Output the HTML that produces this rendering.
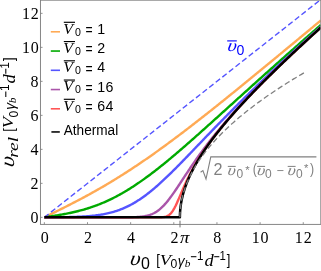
<!DOCTYPE html>
<html><head><meta charset="utf-8"><style>
html,body{margin:0;padding:0;background:#fff;}
svg{display:block;will-change:transform}
.se{font-family:"Liberation Serif",serif;}
.sa{font-family:"Liberation Sans",sans-serif;}
</style></head><body>
<svg width="321" height="271" viewBox="0 0 321 271">
<rect width="321" height="271" fill="#fff"/>
<defs><clipPath id="c"><rect x="40.45" y="0.2" width="280.35" height="224.20"/></clipPath></defs>
<g clip-path="url(#c)">
<g fill="none" stroke-width="2.4" stroke-linejoin="round">
<path d="M44.35,217.35 L45.42,216.83 L46.48,216.30 L47.55,215.78 L48.62,215.25 L49.69,214.72 L50.75,214.20 L51.82,213.67 L52.89,213.15 L53.96,212.62 L55.02,212.09 L56.09,211.56 L57.16,211.03 L58.23,210.50 L59.29,209.97 L60.36,209.44 L61.43,208.90 L62.50,208.37 L63.56,207.83 L64.63,207.29 L65.70,206.76 L66.76,206.22 L67.83,205.67 L68.90,205.13 L69.97,204.58 L71.03,204.04 L72.10,203.49 L73.17,202.94 L74.24,202.39 L75.30,201.83 L76.37,201.28 L77.44,200.72 L78.51,200.16 L79.57,199.59 L80.64,199.03 L81.71,198.46 L82.78,197.89 L83.84,197.32 L84.91,196.75 L85.98,196.17 L87.04,195.59 L88.11,195.01 L89.18,194.43 L90.25,193.84 L91.31,193.25 L92.38,192.66 L93.45,192.06 L94.52,191.47 L95.58,190.87 L96.65,190.26 L97.72,189.66 L98.79,189.05 L99.85,188.44 L100.92,187.82 L101.99,187.21 L103.06,186.59 L104.12,185.96 L105.19,185.34 L106.26,184.71 L107.33,184.08 L108.39,183.44 L109.46,182.81 L110.53,182.17 L111.59,181.52 L112.66,180.88 L113.73,180.23 L114.80,179.57 L115.86,178.92 L116.93,178.26 L118.00,177.60 L119.07,176.93 L120.13,176.27 L121.20,175.60 L122.27,174.92 L123.34,174.25 L124.40,173.57 L125.47,172.88 L126.54,172.20 L127.61,171.51 L128.67,170.82 L129.74,170.13 L130.81,169.43 L131.87,168.73 L132.94,168.03 L134.01,167.32 L135.08,166.61 L136.14,165.90 L137.21,165.19 L138.28,164.47 L139.35,163.75 L140.41,163.03 L141.48,162.30 L142.55,161.58 L143.62,160.85 L144.68,160.11 L145.75,159.38 L146.82,158.64 L147.89,157.90 L148.95,157.15 L150.02,156.41 L151.09,155.66 L152.15,154.91 L153.22,154.16 L154.29,153.40 L155.36,152.64 L156.42,151.88 L157.49,151.12 L158.56,150.35 L159.63,149.59 L160.69,148.82 L161.76,148.04 L162.83,147.27 L163.90,146.49 L164.96,145.71 L166.03,144.93 L167.10,144.15 L168.17,143.37 L169.23,142.58 L170.30,141.79 L171.37,141.00 L172.43,140.21 L173.50,139.41 L174.57,138.61 L175.64,137.81 L176.70,137.01 L177.77,136.21 L178.84,135.41 L179.91,134.60 L180.97,133.79 L182.04,132.98 L183.11,132.17 L184.18,131.36 L185.24,130.55 L186.31,129.73 L187.38,128.91 L188.45,128.09 L189.51,127.27 L190.58,126.45 L191.65,125.63 L192.72,124.80 L193.78,123.97 L194.85,123.14 L195.92,122.32 L196.98,121.48 L198.05,120.65 L199.12,119.82 L200.19,118.98 L201.25,118.15 L202.32,117.31 L203.39,116.47 L204.46,115.63 L205.52,114.79 L206.59,113.95 L207.66,113.11 L208.73,112.26 L209.79,111.42 L210.86,110.57 L211.93,109.72 L213.00,108.87 L214.06,108.02 L215.13,107.17 L216.20,106.32 L217.26,105.47 L218.33,104.61 L219.40,103.76 L220.47,102.91 L221.53,102.05 L222.60,101.19 L223.67,100.33 L224.74,99.48 L225.80,98.62 L226.87,97.76 L227.94,96.90 L229.01,96.03 L230.07,95.17 L231.14,94.31 L232.21,93.44 L233.28,92.58 L234.34,91.71 L235.41,90.85 L236.48,89.98 L237.54,89.11 L238.61,88.25 L239.68,87.38 L240.75,86.51 L241.81,85.64 L242.88,84.77 L243.95,83.90 L245.02,83.03 L246.08,82.16 L247.15,81.29 L248.22,80.41 L249.29,79.54 L250.35,78.67 L251.42,77.79 L252.49,76.92 L253.56,76.04 L254.62,75.17 L255.69,74.29 L256.76,73.42 L257.82,72.54 L258.89,71.66 L259.96,70.79 L261.03,69.91 L262.09,69.03 L263.16,68.15 L264.23,67.28 L265.30,66.40 L266.36,65.52 L267.43,64.64 L268.50,63.76 L269.57,62.88 L270.63,62.00 L271.70,61.12 L272.77,60.24 L273.84,59.36 L274.90,58.48 L275.97,57.60 L277.04,56.71 L278.11,55.83 L279.17,54.95 L280.24,54.07 L281.31,53.19 L282.37,52.30 L283.44,51.42 L284.51,50.54 L285.58,49.66 L286.64,48.77 L287.71,47.89 L288.78,47.01 L289.85,46.12 L290.91,45.24 L291.98,44.36 L293.05,43.47 L294.12,42.59 L295.18,41.71 L296.25,40.82 L297.32,39.94 L298.39,39.05 L299.45,38.17 L300.52,37.28 L301.59,36.40 L302.65,35.52 L303.72,34.63 L304.79,33.75 L305.86,32.86 L306.92,31.98 L307.99,31.09 L309.06,30.21 L310.13,29.32 L311.19,28.44 L312.26,27.55 L313.33,26.67 L314.40,25.78 L315.46,24.90 L316.53,24.01 L317.60,23.13 L318.67,22.24 L319.73,21.36 L320.80,20.47" stroke="#FFAA55"/>
<path d="M44.35,217.35 L45.42,217.19 L46.48,217.03 L47.55,216.86 L48.62,216.70 L49.69,216.54 L50.75,216.37 L51.82,216.20 L52.89,216.04 L53.96,215.87 L55.02,215.69 L56.09,215.52 L57.16,215.34 L58.23,215.16 L59.29,214.98 L60.36,214.80 L61.43,214.61 L62.50,214.42 L63.56,214.22 L64.63,214.02 L65.70,213.82 L66.76,213.61 L67.83,213.40 L68.90,213.18 L69.97,212.96 L71.03,212.73 L72.10,212.50 L73.17,212.26 L74.24,212.02 L75.30,211.77 L76.37,211.51 L77.44,211.25 L78.51,210.98 L79.57,210.71 L80.64,210.43 L81.71,210.14 L82.78,209.84 L83.84,209.54 L84.91,209.23 L85.98,208.92 L87.04,208.59 L88.11,208.26 L89.18,207.92 L90.25,207.57 L91.31,207.22 L92.38,206.85 L93.45,206.48 L94.52,206.10 L95.58,205.72 L96.65,205.32 L97.72,204.91 L98.79,204.50 L99.85,204.08 L100.92,203.65 L101.99,203.21 L103.06,202.76 L104.12,202.30 L105.19,201.84 L106.26,201.36 L107.33,200.88 L108.39,200.39 L109.46,199.89 L110.53,199.38 L111.59,198.86 L112.66,198.33 L113.73,197.79 L114.80,197.25 L115.86,196.69 L116.93,196.13 L118.00,195.56 L119.07,194.98 L120.13,194.39 L121.20,193.79 L122.27,193.18 L123.34,192.57 L124.40,191.94 L125.47,191.31 L126.54,190.67 L127.61,190.02 L128.67,189.37 L129.74,188.70 L130.81,188.03 L131.87,187.35 L132.94,186.66 L134.01,185.97 L135.08,185.26 L136.14,184.55 L137.21,183.83 L138.28,183.11 L139.35,182.38 L140.41,181.64 L141.48,180.89 L142.55,180.14 L143.62,179.38 L144.68,178.61 L145.75,177.84 L146.82,177.06 L147.89,176.27 L148.95,175.48 L150.02,174.68 L151.09,173.88 L152.15,173.07 L153.22,172.26 L154.29,171.44 L155.36,170.61 L156.42,169.78 L157.49,168.95 L158.56,168.11 L159.63,167.26 L160.69,166.41 L161.76,165.56 L162.83,164.70 L163.90,163.83 L164.96,162.96 L166.03,162.09 L167.10,161.22 L168.17,160.34 L169.23,159.45 L170.30,158.57 L171.37,157.67 L172.43,156.78 L173.50,155.88 L174.57,154.98 L175.64,154.08 L176.70,153.17 L177.77,152.26 L178.84,151.35 L179.91,150.43 L180.97,149.51 L182.04,148.59 L183.11,147.67 L184.18,146.74 L185.24,145.82 L186.31,144.88 L187.38,143.95 L188.45,143.02 L189.51,142.08 L190.58,141.14 L191.65,140.20 L192.72,139.26 L193.78,138.32 L194.85,137.37 L195.92,136.43 L196.98,135.48 L198.05,134.53 L199.12,133.58 L200.19,132.63 L201.25,131.68 L202.32,130.72 L203.39,129.77 L204.46,128.81 L205.52,127.86 L206.59,126.90 L207.66,125.94 L208.73,124.98 L209.79,124.02 L210.86,123.06 L211.93,122.10 L213.00,121.14 L214.06,120.18 L215.13,119.21 L216.20,118.25 L217.26,117.29 L218.33,116.32 L219.40,115.36 L220.47,114.39 L221.53,113.43 L222.60,112.47 L223.67,111.50 L224.74,110.53 L225.80,109.57 L226.87,108.60 L227.94,107.64 L229.01,106.67 L230.07,105.71 L231.14,104.74 L232.21,103.78 L233.28,102.81 L234.34,101.84 L235.41,100.88 L236.48,99.91 L237.54,98.95 L238.61,97.98 L239.68,97.02 L240.75,96.06 L241.81,95.09 L242.88,94.13 L243.95,93.16 L245.02,92.20 L246.08,91.24 L247.15,90.27 L248.22,89.31 L249.29,88.35 L250.35,87.39 L251.42,86.43 L252.49,85.47 L253.56,84.50 L254.62,83.54 L255.69,82.58 L256.76,81.63 L257.82,80.67 L258.89,79.71 L259.96,78.75 L261.03,77.79 L262.09,76.83 L263.16,75.88 L264.23,74.92 L265.30,73.97 L266.36,73.01 L267.43,72.06 L268.50,71.10 L269.57,70.15 L270.63,69.19 L271.70,68.24 L272.77,67.29 L273.84,66.34 L274.90,65.38 L275.97,64.43 L277.04,63.48 L278.11,62.53 L279.17,61.58 L280.24,60.64 L281.31,59.69 L282.37,58.74 L283.44,57.79 L284.51,56.85 L285.58,55.90 L286.64,54.95 L287.71,54.01 L288.78,53.06 L289.85,52.12 L290.91,51.18 L291.98,50.23 L293.05,49.29 L294.12,48.35 L295.18,47.41 L296.25,46.47 L297.32,45.53 L298.39,44.59 L299.45,43.65 L300.52,42.71 L301.59,41.77 L302.65,40.83 L303.72,39.90 L304.79,38.96 L305.86,38.02 L306.92,37.09 L307.99,36.15 L309.06,35.22 L310.13,34.28 L311.19,33.35 L312.26,32.42 L313.33,31.48 L314.40,30.55 L315.46,29.62 L316.53,28.69 L317.60,27.76 L318.67,26.83 L319.73,25.90 L320.80,24.97" stroke="#00AA00"/>
<path d="M44.35,217.35 L45.42,217.34 L46.48,217.34 L47.55,217.33 L48.62,217.32 L49.69,217.32 L50.75,217.31 L51.82,217.30 L52.89,217.29 L53.96,217.28 L55.02,217.28 L56.09,217.27 L57.16,217.26 L58.23,217.24 L59.29,217.23 L60.36,217.22 L61.43,217.21 L62.50,217.19 L63.56,217.18 L64.63,217.16 L65.70,217.14 L66.76,217.12 L67.83,217.10 L68.90,217.08 L69.97,217.05 L71.03,217.02 L72.10,217.00 L73.17,216.96 L74.24,216.93 L75.30,216.90 L76.37,216.86 L77.44,216.81 L78.51,216.77 L79.57,216.72 L80.64,216.67 L81.71,216.62 L82.78,216.56 L83.84,216.49 L84.91,216.42 L85.98,216.35 L87.04,216.28 L88.11,216.19 L89.18,216.10 L90.25,216.01 L91.31,215.91 L92.38,215.80 L93.45,215.69 L94.52,215.57 L95.58,215.44 L96.65,215.31 L97.72,215.16 L98.79,215.01 L99.85,214.85 L100.92,214.68 L101.99,214.50 L103.06,214.31 L104.12,214.11 L105.19,213.90 L106.26,213.68 L107.33,213.45 L108.39,213.20 L109.46,212.95 L110.53,212.68 L111.59,212.39 L112.66,212.10 L113.73,211.79 L114.80,211.47 L115.86,211.13 L116.93,210.78 L118.00,210.41 L119.07,210.03 L120.13,209.63 L121.20,209.22 L122.27,208.79 L123.34,208.34 L124.40,207.88 L125.47,207.40 L126.54,206.91 L127.61,206.40 L128.67,205.87 L129.74,205.33 L130.81,204.77 L131.87,204.19 L132.94,203.59 L134.01,202.98 L135.08,202.35 L136.14,201.70 L137.21,201.04 L138.28,200.36 L139.35,199.67 L140.41,198.95 L141.48,198.23 L142.55,197.48 L143.62,196.72 L144.68,195.95 L145.75,195.16 L146.82,194.35 L147.89,193.53 L148.95,192.70 L150.02,191.85 L151.09,190.99 L152.15,190.11 L153.22,189.23 L154.29,188.33 L155.36,187.41 L156.42,186.49 L157.49,185.55 L158.56,184.61 L159.63,183.65 L160.69,182.68 L161.76,181.71 L162.83,180.72 L163.90,179.73 L164.96,178.72 L166.03,177.71 L167.10,176.69 L168.17,175.66 L169.23,174.63 L170.30,173.59 L171.37,172.54 L172.43,171.48 L173.50,170.43 L174.57,169.36 L175.64,168.29 L176.70,167.22 L177.77,166.14 L178.84,165.06 L179.91,163.97 L180.97,162.88 L182.04,161.79 L183.11,160.69 L184.18,159.59 L185.24,158.49 L186.31,157.39 L187.38,156.29 L188.45,155.18 L189.51,154.07 L190.58,152.96 L191.65,151.85 L192.72,150.74 L193.78,149.63 L194.85,148.52 L195.92,147.41 L196.98,146.29 L198.05,145.18 L199.12,144.07 L200.19,142.96 L201.25,141.84 L202.32,140.73 L203.39,139.62 L204.46,138.51 L205.52,137.40 L206.59,136.29 L207.66,135.18 L208.73,134.08 L209.79,132.97 L210.86,131.87 L211.93,130.76 L213.00,129.66 L214.06,128.56 L215.13,127.46 L216.20,126.36 L217.26,125.27 L218.33,124.17 L219.40,123.08 L220.47,121.99 L221.53,120.90 L222.60,119.81 L223.67,118.73 L224.74,117.64 L225.80,116.56 L226.87,115.48 L227.94,114.40 L229.01,113.32 L230.07,112.25 L231.14,111.17 L232.21,110.10 L233.28,109.03 L234.34,107.96 L235.41,106.90 L236.48,105.83 L237.54,104.77 L238.61,103.71 L239.68,102.65 L240.75,101.59 L241.81,100.54 L242.88,99.48 L243.95,98.43 L245.02,97.38 L246.08,96.34 L247.15,95.29 L248.22,94.25 L249.29,93.20 L250.35,92.16 L251.42,91.12 L252.49,90.09 L253.56,89.05 L254.62,88.02 L255.69,86.99 L256.76,85.96 L257.82,84.93 L258.89,83.90 L259.96,82.88 L261.03,81.85 L262.09,80.83 L263.16,79.81 L264.23,78.79 L265.30,77.78 L266.36,76.76 L267.43,75.75 L268.50,74.74 L269.57,73.72 L270.63,72.72 L271.70,71.71 L272.77,70.70 L273.84,69.70 L274.90,68.69 L275.97,67.69 L277.04,66.69 L278.11,65.69 L279.17,64.70 L280.24,63.70 L281.31,62.71 L282.37,61.71 L283.44,60.72 L284.51,59.73 L285.58,58.74 L286.64,57.75 L287.71,56.77 L288.78,55.78 L289.85,54.80 L290.91,53.82 L291.98,52.83 L293.05,51.85 L294.12,50.87 L295.18,49.90 L296.25,48.92 L297.32,47.94 L298.39,46.97 L299.45,46.00 L300.52,45.02 L301.59,44.05 L302.65,43.08 L303.72,42.11 L304.79,41.15 L305.86,40.18 L306.92,39.21 L307.99,38.25 L309.06,37.29 L310.13,36.32 L311.19,35.36 L312.26,34.40 L313.33,33.44 L314.40,32.48 L315.46,31.53 L316.53,30.57 L317.60,29.61 L318.67,28.66 L319.73,27.70 L320.80,26.75" stroke="#5555FF"/>
<path d="M44.35,217.35 L45.42,217.35 L46.48,217.35 L47.55,217.35 L48.62,217.35 L49.69,217.35 L50.75,217.35 L51.82,217.35 L52.89,217.35 L53.96,217.35 L55.02,217.35 L56.09,217.35 L57.16,217.35 L58.23,217.35 L59.29,217.35 L60.36,217.35 L61.43,217.35 L62.50,217.35 L63.56,217.35 L64.63,217.35 L65.70,217.35 L66.76,217.35 L67.83,217.35 L68.90,217.35 L69.97,217.35 L71.03,217.35 L72.10,217.35 L73.17,217.35 L74.24,217.35 L75.30,217.35 L76.37,217.35 L77.44,217.35 L78.51,217.35 L79.57,217.35 L80.64,217.35 L81.71,217.35 L82.78,217.35 L83.84,217.35 L84.91,217.35 L85.98,217.35 L87.04,217.35 L88.11,217.35 L89.18,217.35 L90.25,217.35 L91.31,217.35 L92.38,217.35 L93.45,217.35 L94.52,217.35 L95.58,217.35 L96.65,217.35 L97.72,217.35 L98.79,217.35 L99.85,217.35 L100.92,217.35 L101.99,217.35 L103.06,217.35 L104.12,217.35 L105.19,217.35 L106.26,217.35 L107.33,217.35 L108.39,217.35 L109.46,217.35 L110.53,217.35 L111.59,217.35 L112.66,217.35 L113.73,217.35 L114.80,217.35 L115.86,217.35 L116.93,217.35 L118.00,217.34 L119.07,217.34 L120.13,217.34 L121.20,217.34 L122.27,217.33 L123.34,217.33 L124.40,217.32 L125.47,217.32 L126.54,217.31 L127.61,217.30 L128.67,217.29 L129.74,217.27 L130.81,217.25 L131.87,217.23 L132.94,217.21 L134.01,217.17 L135.08,217.13 L136.14,217.09 L137.21,217.03 L138.28,216.96 L139.35,216.88 L140.41,216.79 L141.48,216.68 L142.55,216.55 L143.62,216.39 L144.68,216.22 L145.75,216.01 L146.82,215.78 L147.89,215.51 L148.95,215.20 L150.02,214.86 L151.09,214.47 L152.15,214.03 L153.22,213.53 L154.29,212.99 L155.36,212.39 L156.42,211.73 L157.49,211.00 L158.56,210.22 L159.63,209.37 L160.69,208.46 L161.76,207.48 L162.83,206.44 L163.90,205.34 L164.96,204.18 L166.03,202.96 L167.10,201.69 L168.17,200.37 L169.23,199.00 L170.30,197.60 L171.37,196.15 L172.43,194.66 L173.50,193.15 L174.57,191.61 L175.64,190.05 L176.70,188.47 L177.77,186.87 L178.84,185.26 L179.91,183.65 L180.97,182.03 L182.04,180.40 L183.11,178.78 L184.18,177.15 L185.24,175.53 L186.31,173.92 L187.38,172.31 L188.45,170.71 L189.51,169.12 L190.58,167.53 L191.65,165.96 L192.72,164.40 L193.78,162.85 L194.85,161.31 L195.92,159.79 L196.98,158.27 L198.05,156.77 L199.12,155.28 L200.19,153.81 L201.25,152.34 L202.32,150.89 L203.39,149.45 L204.46,148.02 L205.52,146.61 L206.59,145.20 L207.66,143.81 L208.73,142.43 L209.79,141.06 L210.86,139.70 L211.93,138.35 L213.00,137.01 L214.06,135.68 L215.13,134.36 L216.20,133.05 L217.26,131.75 L218.33,130.45 L219.40,129.17 L220.47,127.90 L221.53,126.63 L222.60,125.37 L223.67,124.12 L224.74,122.88 L225.80,121.64 L226.87,120.41 L227.94,119.19 L229.01,117.97 L230.07,116.77 L231.14,115.56 L232.21,114.37 L233.28,113.18 L234.34,112.00 L235.41,110.82 L236.48,109.65 L237.54,108.48 L238.61,107.32 L239.68,106.16 L240.75,105.01 L241.81,103.87 L242.88,102.73 L243.95,101.59 L245.02,100.46 L246.08,99.33 L247.15,98.21 L248.22,97.09 L249.29,95.98 L250.35,94.87 L251.42,93.76 L252.49,92.66 L253.56,91.56 L254.62,90.47 L255.69,89.37 L256.76,88.29 L257.82,87.20 L258.89,86.12 L259.96,85.05 L261.03,83.97 L262.09,82.90 L263.16,81.83 L264.23,80.77 L265.30,79.71 L266.36,78.65 L267.43,77.59 L268.50,76.54 L269.57,75.49 L270.63,74.44 L271.70,73.40 L272.77,72.35 L273.84,71.31 L274.90,70.28 L275.97,69.24 L277.04,68.21 L278.11,67.18 L279.17,66.15 L280.24,65.12 L281.31,64.10 L282.37,63.08 L283.44,62.06 L284.51,61.04 L285.58,60.03 L286.64,59.01 L287.71,58.00 L288.78,56.99 L289.85,55.98 L290.91,54.98 L291.98,53.97 L293.05,52.97 L294.12,51.97 L295.18,50.97 L296.25,49.98 L297.32,48.98 L298.39,47.99 L299.45,47.00 L300.52,46.00 L301.59,45.02 L302.65,44.03 L303.72,43.04 L304.79,42.06 L305.86,41.08 L306.92,40.09 L307.99,39.11 L309.06,38.14 L310.13,37.16 L311.19,36.18 L312.26,35.21 L313.33,34.23 L314.40,33.26 L315.46,32.29 L316.53,31.32 L317.60,30.35 L318.67,29.39 L319.73,28.42 L320.80,27.46" stroke="#AA55AA"/>
<path d="M44.35,217.35 L45.42,217.35 L46.48,217.35 L47.55,217.35 L48.62,217.35 L49.69,217.35 L50.75,217.35 L51.82,217.35 L52.89,217.35 L53.96,217.35 L55.02,217.35 L56.09,217.35 L57.16,217.35 L58.23,217.35 L59.29,217.35 L60.36,217.35 L61.43,217.35 L62.50,217.35 L63.56,217.35 L64.63,217.35 L65.70,217.35 L66.76,217.35 L67.83,217.35 L68.90,217.35 L69.97,217.35 L71.03,217.35 L72.10,217.35 L73.17,217.35 L74.24,217.35 L75.30,217.35 L76.37,217.35 L77.44,217.35 L78.51,217.35 L79.57,217.35 L80.64,217.35 L81.71,217.35 L82.78,217.35 L83.84,217.35 L84.91,217.35 L85.98,217.35 L87.04,217.35 L88.11,217.35 L89.18,217.35 L90.25,217.35 L91.31,217.35 L92.38,217.35 L93.45,217.35 L94.52,217.35 L95.58,217.35 L96.65,217.35 L97.72,217.35 L98.79,217.35 L99.85,217.35 L100.92,217.35 L101.99,217.35 L103.06,217.35 L104.12,217.35 L105.19,217.35 L106.26,217.35 L107.33,217.35 L108.39,217.35 L109.46,217.35 L110.53,217.35 L111.59,217.35 L112.66,217.35 L113.73,217.35 L114.80,217.35 L115.86,217.35 L116.93,217.35 L118.00,217.35 L119.07,217.35 L120.13,217.35 L121.20,217.35 L122.27,217.35 L123.34,217.35 L124.40,217.35 L125.47,217.35 L126.54,217.35 L127.61,217.35 L128.67,217.35 L129.74,217.35 L130.81,217.35 L131.87,217.35 L132.94,217.35 L134.01,217.35 L135.08,217.35 L136.14,217.35 L137.21,217.35 L138.28,217.35 L139.35,217.35 L140.41,217.35 L141.48,217.35 L142.55,217.35 L143.62,217.35 L144.68,217.35 L145.75,217.35 L146.82,217.35 L147.89,217.35 L148.95,217.35 L150.02,217.35 L151.09,217.35 L152.15,217.35 L153.22,217.35 L154.29,217.35 L155.36,217.35 L156.42,217.34 L157.49,217.33 L158.56,217.32 L159.63,217.30 L160.69,217.27 L161.76,217.22 L162.83,217.14 L163.90,217.01 L164.96,216.82 L166.03,216.55 L167.10,216.16 L168.17,215.62 L169.23,214.89 L170.30,213.96 L171.37,212.78 L172.43,211.36 L173.50,209.69 L174.57,207.79 L175.64,205.69 L176.70,203.44 L177.77,201.06 L178.84,198.61 L179.91,196.12 L180.97,193.61 L182.04,191.13 L183.11,188.67 L184.18,186.26 L185.24,183.90 L186.31,181.60 L187.38,179.36 L188.45,177.18 L189.51,175.06 L190.58,172.99 L191.65,170.98 L192.72,169.02 L193.78,167.10 L194.85,165.23 L195.92,163.41 L196.98,161.62 L198.05,159.87 L199.12,158.15 L200.19,156.47 L201.25,154.81 L202.32,153.19 L203.39,151.59 L204.46,150.02 L205.52,148.47 L206.59,146.94 L207.66,145.44 L208.73,143.95 L209.79,142.49 L210.86,141.04 L211.93,139.61 L213.00,138.20 L214.06,136.80 L215.13,135.42 L216.20,134.05 L217.26,132.69 L218.33,131.35 L219.40,130.02 L220.47,128.70 L221.53,127.39 L222.60,126.09 L223.67,124.81 L224.74,123.53 L225.80,122.26 L226.87,121.00 L227.94,119.75 L229.01,118.51 L230.07,117.28 L231.14,116.06 L232.21,114.84 L233.28,113.63 L234.34,112.43 L235.41,111.23 L236.48,110.04 L237.54,108.86 L238.61,107.68 L239.68,106.51 L240.75,105.35 L241.81,104.19 L242.88,103.04 L243.95,101.89 L245.02,100.75 L246.08,99.61 L247.15,98.48 L248.22,97.35 L249.29,96.23 L250.35,95.11 L251.42,94.00 L252.49,92.89 L253.56,91.78 L254.62,90.68 L255.69,89.58 L256.76,88.49 L257.82,87.40 L258.89,86.31 L259.96,85.23 L261.03,84.15 L262.09,83.07 L263.16,82.00 L264.23,80.93 L265.30,79.86 L266.36,78.80 L267.43,77.74 L268.50,76.68 L269.57,75.63 L270.63,74.58 L271.70,73.53 L272.77,72.48 L273.84,71.44 L274.90,70.40 L275.97,69.36 L277.04,68.32 L278.11,67.29 L279.17,66.26 L280.24,65.23 L281.31,64.20 L282.37,63.18 L283.44,62.16 L284.51,61.14 L285.58,60.12 L286.64,59.11 L287.71,58.09 L288.78,57.08 L289.85,56.07 L290.91,55.06 L291.98,54.06 L293.05,53.05 L294.12,52.05 L295.18,51.05 L296.25,50.05 L297.32,49.06 L298.39,48.06 L299.45,47.07 L300.52,46.07 L301.59,45.08 L302.65,44.10 L303.72,43.11 L304.79,42.12 L305.86,41.14 L306.92,40.16 L307.99,39.17 L309.06,38.19 L310.13,37.22 L311.19,36.24 L312.26,35.26 L313.33,34.29 L314.40,33.32 L315.46,32.34 L316.53,31.37 L317.60,30.41 L318.67,29.44 L319.73,28.47 L320.80,27.50" stroke="#FF5555"/>
</g>
<path d="M44.35,217.35 L319.94,0.20" stroke="#5555FF" stroke-width="1.4" stroke-dasharray="5.5 2.893" stroke-dashoffset="0" fill="none"/>
<g fill="none" stroke-width="2.5" stroke-linejoin="round">
<path d="M44.35,217.35 L179.91,217.35 L179.91,216.58 L179.92,215.80 L179.94,215.03 L179.97,214.25 L180.00,213.48 L180.04,212.71 L180.08,211.93 L180.14,211.16 L180.20,210.38 L180.27,209.61 L180.34,208.83 L180.42,208.05 L180.51,207.28 L180.61,206.50 L180.71,205.72 L180.82,204.95 L180.94,204.17 L181.06,203.39 L181.19,202.61 L181.33,201.83 L181.48,201.05 L181.63,200.27 L181.79,199.49 L181.96,198.71 L182.13,197.92 L182.31,197.14 L182.50,196.36 L182.70,195.57 L182.90,194.78 L183.11,194.00 L183.33,193.21 L183.55,192.42 L183.78,191.63 L184.02,190.84 L184.27,190.05 L184.52,189.25 L184.78,188.46 L185.05,187.67 L185.32,186.87 L185.60,186.07 L185.89,185.27 L186.19,184.47 L186.49,183.67 L186.80,182.87 L187.11,182.07 L187.44,181.26 L187.77,180.45 L188.11,179.65 L188.45,178.84 L188.80,178.03 L189.16,177.21 L189.53,176.40 L189.90,175.59 L190.28,174.77 L190.67,173.95 L191.07,173.13 L191.47,172.31 L191.88,171.49 L192.29,170.66 L192.72,169.83 L193.15,169.01 L193.59,168.18 L194.03,167.34 L194.48,166.51 L194.94,165.67 L195.41,164.84 L195.88,164.00 L196.36,163.15 L196.85,162.31 L197.34,161.46 L197.84,160.62 L198.35,159.77 L198.87,158.92 L199.39,158.06 L199.92,157.21 L200.46,156.35 L201.00,155.49 L201.56,154.63 L202.11,153.76 L202.68,152.89 L203.25,152.02 L203.83,151.15 L204.42,150.28 L205.01,149.40 L205.61,148.52 L206.22,147.64 L206.84,146.76 L207.46,145.87 L208.09,144.98 L208.73,144.09 L209.37,143.20 L210.02,142.30 L210.68,141.41 L211.35,140.50 L212.02,139.60 L212.70,138.69 L213.38,137.79 L214.08,136.87 L214.78,135.96 L215.49,135.04 L216.20,134.12 L216.92,133.20 L217.65,132.27 L218.39,131.35 L219.13,130.41 L219.88,129.48 L220.64,128.54 L221.41,127.60 L222.18,126.66 L222.96,125.72 L223.74,124.77 L224.54,123.82 L225.34,122.86 L226.15,121.90 L226.96,120.94 L227.78,119.98 L228.61,119.01 L229.45,118.04 L230.29,117.07 L231.14,116.09 L232.00,115.11 L232.86,114.13 L233.73,113.14 L234.61,112.15 L235.50,111.16 L236.39,110.17 L237.29,109.17 L238.20,108.16 L239.11,107.16 L240.04,106.15 L240.96,105.14 L241.90,104.12 L242.84,103.10 L243.79,102.08 L244.75,101.05 L245.71,100.03 L246.69,98.99 L247.66,97.96 L248.65,96.92 L249.64,95.87 L250.64,94.83 L251.65,93.77 L252.66,92.72 L253.68,91.66 L254.71,90.60 L255.75,89.54 L256.79,88.47 L257.84,87.40 L258.90,86.32 L259.96,85.24 L261.03,84.16 L262.11,83.07 L263.19,81.98 L264.29,80.88 L265.38,79.79 L266.49,78.68 L267.60,77.58 L268.73,76.47 L269.85,75.35 L270.99,74.24 L272.13,73.12 L273.28,71.99 L274.44,70.86 L275.60,69.73 L276.77,68.59 L277.95,67.45 L279.13,66.31 L280.32,65.16 L281.52,64.00 L282.73,62.85 L283.94,61.69 L285.16,60.52 L286.39,59.35 L287.62,58.18 L288.87,57.00 L290.11,55.82 L291.37,54.64 L292.63,53.45 L293.90,52.26 L295.18,51.06 L296.47,49.86 L297.76,48.65 L299.06,47.44 L300.36,46.23 L301.67,45.01 L302.99,43.79 L304.32,42.56 L305.65,41.33 L307.00,40.09 L308.34,38.85 L309.70,37.61 L311.06,36.36 L312.43,35.11 L313.81,33.85 L315.19,32.59 L316.58,31.33 L317.98,30.06 L319.39,28.79 L320.80,27.51" stroke="#000"/>
</g>
<path d="M179.91,217.35 L179.91,216.87 L179.92,216.38 L179.92,215.90 L179.93,215.42 L179.94,214.93 L179.96,214.45 L179.98,213.97 L180.00,213.48 L180.02,213.00 L180.05,212.52 L180.08,212.04 L180.11,211.55 L180.14,211.07 L180.18,210.59 L180.22,210.10 L180.26,209.62 L180.31,209.14 L180.36,208.65 L180.41,208.17 L180.46,207.69 L180.52,207.20 L180.58,206.72 L180.64,206.24 L180.71,205.75 L180.78,205.27 L180.85,204.79 L180.92,204.30 L181.00,203.82 L181.08,203.34 L181.16,202.86 L181.24,202.37 L181.33,201.89 L181.42,201.41 L181.51,200.92 L181.61,200.44 L181.71,199.96 L181.81,199.47 L181.91,198.99 L182.02,198.51 L182.13,198.02 L182.24,197.54 L182.36,197.06 L182.47,196.57 L182.59,196.09 L182.72,195.61 L182.84,195.12 L182.97,194.64 L183.11,194.16 L183.24,193.67 L183.38,193.19 L183.52,192.71 L183.66,192.23 L183.81,191.74 L183.95,191.26 L184.11,190.78 L184.26,190.29 L184.42,189.81 L184.58,189.33 L184.74,188.84 L184.90,188.36 L185.07,187.88 L185.24,187.39 L185.41,186.91 L185.59,186.43 L185.77,185.94 L185.95,185.46 L186.14,184.98 L186.32,184.49 L186.51,184.01 L186.71,183.53 L186.90,183.05 L187.10,182.56 L187.30,182.08 L187.50,181.60 L187.71,181.11 L187.92,180.63 L188.13,180.15 L188.35,179.66 L188.57,179.18 L188.79,178.70 L189.01,178.21 L189.24,177.73 L189.46,177.25 L189.70,176.76 L189.93,176.28 L190.17,175.80 L190.41,175.31 L190.65,174.83 L190.90,174.35 L191.14,173.87 L191.39,173.38 L191.65,172.90 L191.90,172.42 L192.16,171.93 L192.43,171.45 L192.69,170.97 L192.96,170.48 L193.23,170.00 L193.50,169.52 L193.78,169.03 L194.06,168.55 L194.34,168.07 L194.62,167.58 L194.91,167.10 L195.20,166.62 L195.49,166.13 L195.79,165.65 L196.09,165.17 L196.39,164.68 L196.69,164.20 L197.00,163.72 L197.31,163.24 L197.62,162.75 L197.93,162.27 L198.25,161.79 L198.57,161.30 L198.89,160.82 L199.22,160.34 L199.55,159.85 L199.88,159.37 L200.21,158.89 L200.55,158.40 L200.89,157.92 L201.23,157.44 L201.58,156.95 L201.93,156.47 L202.28,155.99 L202.63,155.50 L202.99,155.02 L203.35,154.54 L203.71,154.06 L204.07,153.57 L204.44,153.09 L204.81,152.61 L205.19,152.12 L205.56,151.64 L205.94,151.16 L206.32,150.67 L206.71,150.19 L207.09,149.71 L207.48,149.22 L207.87,148.74 L208.27,148.26 L208.67,147.77 L209.07,147.29 L209.47,146.81 L209.88,146.32 L210.29,145.84 L210.70,145.36 L211.11,144.88 L211.53,144.39 L211.95,143.91 L212.37,143.43 L212.80,142.94 L213.23,142.46 L213.66,141.98 L214.09,141.49 L214.53,141.01 L214.97,140.53 L215.41,140.04 L215.86,139.56 L216.31,139.08 L216.76,138.59 L217.21,138.11 L217.67,137.63 L218.13,137.14 L218.59,136.66 L219.05,136.18 L219.52,135.69 L219.99,135.21 L220.46,134.73 L220.94,134.25 L221.42,133.76 L221.90,133.28 L222.38,132.80 L222.87,132.31 L223.36,131.83 L223.85,131.35 L224.35,130.86 L224.84,130.38 L225.34,129.90 L225.85,129.41 L226.35,128.93 L226.86,128.45 L227.38,127.96 L227.89,127.48 L228.41,127.00 L228.93,126.51 L229.45,126.03 L229.98,125.55 L230.50,125.07 L231.04,124.58 L231.57,124.10 L232.11,123.62 L232.65,123.13 L233.19,122.65 L233.73,122.17 L234.28,121.68 L234.83,121.20 L235.38,120.72 L235.94,120.23 L236.50,119.75 L237.06,119.27 L237.63,118.78 L238.19,118.30 L238.76,117.82 L239.34,117.33 L239.91,116.85 L240.49,116.37 L241.07,115.89 L241.65,115.40 L242.24,114.92 L242.83,114.44 L243.42,113.95 L244.02,113.47 L244.62,112.99 L245.22,112.50 L245.82,112.02 L246.43,111.54 L247.03,111.05 L247.65,110.57 L248.26,110.09 L248.88,109.60 L249.50,109.12 L250.12,108.64 L250.75,108.15 L251.37,107.67 L252.00,107.19 L252.64,106.71 L253.28,106.22 L253.91,105.74 L254.56,105.26 L255.20,104.77 L255.85,104.29 L256.50,103.81 L257.15,103.32 L257.81,102.84 L258.47,102.36 L259.13,101.87 L259.79,101.39 L260.46,100.91 L261.13,100.42 L261.80,99.94 L262.48,99.46 L263.16,98.97 L263.84,98.49 L264.52,98.01 L265.21,97.52 L265.90,97.04 L266.59,96.56 L267.28,96.08 L267.98,95.59 L268.68,95.11 L269.39,94.63 L270.09,94.14 L270.80,93.66 L271.51,93.18 L272.23,92.69 L272.94,92.21 L273.66,91.73 L274.38,91.24 L275.11,90.76 L275.84,90.28 L276.57,89.79 L277.30,89.31 L278.04,88.83 L278.78,88.34 L279.52,87.86 L280.26,87.38 L281.01,86.90 L281.76,86.41 L282.52,85.93 L283.27,85.45 L284.03,84.96 L284.79,84.48 L285.56,84.00 L286.32,83.51 L287.09,83.03 L287.87,82.55 L288.64,82.06 L289.42,81.58 L290.20,81.10 L290.98,80.61 L291.77,80.13 L292.56,79.65 L293.35,79.16 L294.14,78.68 L294.94,78.20 L295.74,77.72 L296.55,77.23 L297.35,76.75 L298.16,76.27 L298.97,75.78 L299.79,75.30 L300.60,74.82 L301.42,74.33 L302.24,73.85 L303.07,73.37 L303.90,72.88" stroke="#808080" stroke-width="1.3" stroke-dasharray="5.5 2.89" stroke-dashoffset="8.27" fill="none"/>
</g>
<rect x="40.45" y="0.2" width="280.35" height="224.20" fill="none" stroke="#808080" stroke-width="0.95"/>
<g stroke="#808080">
<line x1="44.35" y1="224.40" x2="44.35" y2="222.20" stroke-width="0.85"/>
<line x1="40.45" y1="217.35" x2="42.55" y2="217.35" stroke-width="0.85"/>
<line x1="87.50" y1="224.40" x2="87.50" y2="222.20" stroke-width="0.85"/>
<line x1="40.45" y1="183.35" x2="42.55" y2="183.35" stroke-width="0.85"/>
<line x1="130.65" y1="224.40" x2="130.65" y2="222.20" stroke-width="0.85"/>
<line x1="40.45" y1="149.35" x2="42.55" y2="149.35" stroke-width="0.85"/>
<line x1="173.80" y1="224.40" x2="173.80" y2="222.20" stroke-width="0.85"/>
<line x1="40.45" y1="115.35" x2="42.55" y2="115.35" stroke-width="0.85"/>
<line x1="216.95" y1="224.40" x2="216.95" y2="222.20" stroke-width="0.85"/>
<line x1="40.45" y1="81.35" x2="42.55" y2="81.35" stroke-width="0.85"/>
<line x1="260.10" y1="224.40" x2="260.10" y2="222.20" stroke-width="0.85"/>
<line x1="40.45" y1="47.35" x2="42.55" y2="47.35" stroke-width="0.85"/>
<line x1="303.25" y1="224.40" x2="303.25" y2="222.20" stroke-width="0.85"/>
<line x1="40.45" y1="13.35" x2="42.55" y2="13.35" stroke-width="0.85"/>
<line x1="180.01" y1="227.40" x2="180.01" y2="220.70" stroke-width="1.0" stroke="#707070"/>
</g>
<g fill="#000">
<text x="44.75" y="243.20" class="se" font-size="16" text-anchor="middle">0</text>
<text x="87.90" y="243.20" class="se" font-size="16" text-anchor="middle">2</text>
<text x="131.05" y="243.20" class="se" font-size="16" text-anchor="middle">4</text>
<text x="217.35" y="243.20" class="se" font-size="16" text-anchor="middle">8</text>
<text x="260.50" y="243.20" class="se" font-size="16" text-anchor="middle" letter-spacing="0.8">10</text>
<text x="303.65" y="243.20" class="se" font-size="16" text-anchor="middle" letter-spacing="0.8">12</text>
<text x="170.60" y="243.20" class="se" font-size="16">2</text>
<text transform="translate(180.10,243.20) scale(1.1,1)" class="se" font-size="17.0" font-style="italic">π</text>
<text x="38.40" y="222.95" class="se" font-size="16" text-anchor="end">0</text>
<text x="38.40" y="188.95" class="se" font-size="16" text-anchor="end">2</text>
<text x="38.40" y="154.95" class="se" font-size="16" text-anchor="end">4</text>
<text x="38.40" y="120.95" class="se" font-size="16" text-anchor="end">6</text>
<text x="38.40" y="86.95" class="se" font-size="16" text-anchor="end">8</text>
<text x="39.60" y="52.95" class="se" font-size="16" text-anchor="end" letter-spacing="0.8">10</text>
<text x="39.60" y="18.95" class="se" font-size="16" text-anchor="end" letter-spacing="0.8">12</text>
<line x1="50.80" y1="31.80" x2="60.00" y2="31.80" stroke-width="1.6" stroke="#FFAA55"/>
<line x1="63.80" y1="22.30" x2="75.00" y2="22.30" stroke-width="1.15" stroke="#000"/>
<text transform="translate(63.20,33.65) scale(1.18,1)" class="se" font-size="13.7" font-style="italic">V</text>
<text x="74.90" y="35.70" class="sa" font-size="10.6">0</text>
<text transform="translate(85.50,35.20) scale(0.86,1)" class="sa" font-size="14.2">=</text>
<text x="97.30" y="33.90" class="sa" font-size="14.2" letter-spacing="0.3">1</text>
<line x1="50.80" y1="51.05" x2="60.00" y2="51.05" stroke-width="1.6" stroke="#00AA00"/>
<line x1="63.80" y1="41.55" x2="75.00" y2="41.55" stroke-width="1.15" stroke="#000"/>
<text transform="translate(63.20,52.90) scale(1.18,1)" class="se" font-size="13.7" font-style="italic">V</text>
<text x="74.90" y="54.95" class="sa" font-size="10.6">0</text>
<text transform="translate(85.50,54.45) scale(0.86,1)" class="sa" font-size="14.2">=</text>
<text x="97.30" y="53.15" class="sa" font-size="14.2" letter-spacing="0.3">2</text>
<line x1="50.80" y1="70.30" x2="60.00" y2="70.30" stroke-width="1.6" stroke="#5555FF"/>
<line x1="63.80" y1="60.80" x2="75.00" y2="60.80" stroke-width="1.15" stroke="#000"/>
<text transform="translate(63.20,72.15) scale(1.18,1)" class="se" font-size="13.7" font-style="italic">V</text>
<text x="74.90" y="74.20" class="sa" font-size="10.6">0</text>
<text transform="translate(85.50,73.70) scale(0.86,1)" class="sa" font-size="14.2">=</text>
<text x="97.30" y="72.40" class="sa" font-size="14.2" letter-spacing="0.3">4</text>
<line x1="50.80" y1="89.55" x2="60.00" y2="89.55" stroke-width="1.6" stroke="#AA55AA"/>
<line x1="63.80" y1="80.05" x2="75.00" y2="80.05" stroke-width="1.15" stroke="#000"/>
<text transform="translate(63.20,91.40) scale(1.18,1)" class="se" font-size="13.7" font-style="italic">V</text>
<text x="74.90" y="93.45" class="sa" font-size="10.6">0</text>
<text transform="translate(85.50,92.95) scale(0.86,1)" class="sa" font-size="14.2">=</text>
<text x="97.30" y="91.65" class="sa" font-size="14.2" letter-spacing="0.3">16</text>
<line x1="50.80" y1="108.80" x2="60.00" y2="108.80" stroke-width="1.6" stroke="#FF5555"/>
<line x1="63.80" y1="99.30" x2="75.00" y2="99.30" stroke-width="1.15" stroke="#000"/>
<text transform="translate(63.20,110.65) scale(1.18,1)" class="se" font-size="13.7" font-style="italic">V</text>
<text x="74.90" y="112.70" class="sa" font-size="10.6">0</text>
<text transform="translate(85.50,112.20) scale(0.86,1)" class="sa" font-size="14.2">=</text>
<text x="97.30" y="110.90" class="sa" font-size="14.2" letter-spacing="0.3">64</text>
<line x1="51.40" y1="131.95" x2="59.80" y2="131.95" stroke-width="1.55" stroke="#000"/>
<text x="63.70" y="134.60" class="sa" font-size="14" textLength="54.5" lengthAdjust="spacingAndGlyphs">Athermal</text>
</g>
<g fill="#0000FF"><text transform="translate(226.71,51.03) scale(1.185,1) skewX(-9)" class="se" font-size="17.08" font-style="italic">υ</text><text x="236.60" y="54.80" class="sa" font-size="14.1">0</text><line x1="227.20" y1="40.90" x2="236.80" y2="40.90" stroke-width="1.1" stroke="#0000FF"/></g>
<g fill="#808080" stroke="none"><path d="M200.6,172.3 L202.9,170.6 L206.0,179.0 L210.8,156.9 L316.4,156.9" fill="none" stroke="#808080" stroke-width="1.1"/><text x="213.40" y="174.90" class="sa" font-size="16.2">2</text><text transform="translate(227.06,174.95) scale(1.208,1) skewX(-9)" class="se" font-size="14.58" font-style="italic">υ</text><line x1="227.80" y1="166.40" x2="235.70" y2="166.40" stroke-width="1.0" stroke="#808080"/><text x="236.50" y="177.90" class="sa" font-size="12.0">0</text><text x="245.30" y="173.70" class="sa" font-size="11.3">*</text><text transform="translate(252.70,174.40) scale(0.9,1)" class="sa" font-size="13.8">(</text><text transform="translate(256.46,174.95) scale(1.208,1) skewX(-9)" class="se" font-size="14.58" font-style="italic">υ</text><line x1="257.20" y1="166.40" x2="265.10" y2="166.40" stroke-width="1.0" stroke="#808080"/><text x="264.90" y="177.90" class="sa" font-size="12.0">0</text><text x="276.60" y="174.90" class="sa" font-size="12.6">−</text><text transform="translate(286.96,174.95) scale(1.208,1) skewX(-9)" class="se" font-size="14.58" font-style="italic">υ</text><line x1="287.70" y1="166.40" x2="295.60" y2="166.40" stroke-width="1.0" stroke="#808080"/><text x="296.00" y="177.90" class="sa" font-size="12.0">0</text><text x="304.10" y="171.50" class="sa" font-size="11.3">*</text><text transform="translate(309.90,174.40) scale(0.9,1)" class="sa" font-size="13.8">)</text></g>
<g fill="#000"><text transform="translate(129.35,265.10) scale(1.131,1) skewX(-9)" class="se" font-size="20.21" font-style="italic">υ</text><text transform="translate(141.06,268.84) scale(1.014,1)" class="sa" font-size="15.77">0</text><text transform="translate(156.28,265.05) scale(0.9,1)" class="sa" font-size="14.55">[</text><text transform="translate(159.78,264.67) scale(1.18,1)" class="se" font-size="15.64" font-style="italic">V</text><text transform="translate(170.41,267.67) scale(0.942,1)" class="sa" font-size="12.96">0</text><text transform="translate(177.65,265.96) scale(0.976,1)" class="sa" font-size="14.01" font-style="italic">γ</text><text transform="translate(184.74,266.70) scale(1.093,1)" class="se" font-size="10.43" font-style="italic">b</text><line x1="190.90" y1="256.70" x2="196.40" y2="256.70" stroke-width="1.05" stroke="#000"/><text transform="translate(197.03,259.70) scale(0.955,1)" class="sa" font-size="12.17">1</text><text transform="translate(204.44,266.14) scale(1.167,1)" class="se" font-size="15.86" font-style="italic">d</text><line x1="214.20" y1="256.70" x2="219.30" y2="256.70" stroke-width="1.05" stroke="#000"/><text transform="translate(219.55,259.70) scale(0.936,1)" class="sa" font-size="12.17">1</text><text transform="translate(226.87,265.07) scale(0.9,1)" class="sa" font-size="14.44">]</text></g>
<g transform="translate(14.0,130.8) rotate(-90)" fill="#000"><text transform="translate(-36.88,0.20) scale(1.155,1) skewX(-9)" class="se" font-size="20.21" font-style="italic">υ</text><text transform="translate(-26.98,4.15) scale(1.282,1)" class="se" font-size="15.14" font-style="italic">rel</text><text transform="translate(-0.92,0.15) scale(0.9,1)" class="sa" font-size="14.55">[</text><text transform="translate(2.58,-0.83) scale(1.18,1)" class="se" font-size="15.64" font-style="italic">V</text><text transform="translate(13.21,3.67) scale(0.942,1)" class="sa" font-size="12.96">0</text><text transform="translate(21.15,1.06) scale(0.976,1)" class="sa" font-size="14.01" font-style="italic">γ</text><text transform="translate(27.54,1.80) scale(1.093,1)" class="se" font-size="10.43" font-style="italic">b</text><line x1="33.70" y1="-8.20" x2="39.20" y2="-8.20" stroke-width="1.05" stroke="#000"/><text transform="translate(39.83,-5.20) scale(0.955,1)" class="sa" font-size="12.17">1</text><text transform="translate(47.24,1.24) scale(1.167,1)" class="se" font-size="15.86" font-style="italic">d</text><line x1="57.00" y1="-8.20" x2="62.10" y2="-8.20" stroke-width="1.05" stroke="#000"/><text transform="translate(62.35,-5.20) scale(0.936,1)" class="sa" font-size="12.17">1</text><text transform="translate(69.87,0.17) scale(0.9,1)" class="sa" font-size="14.44">]</text></g>
</svg>
</body></html>
